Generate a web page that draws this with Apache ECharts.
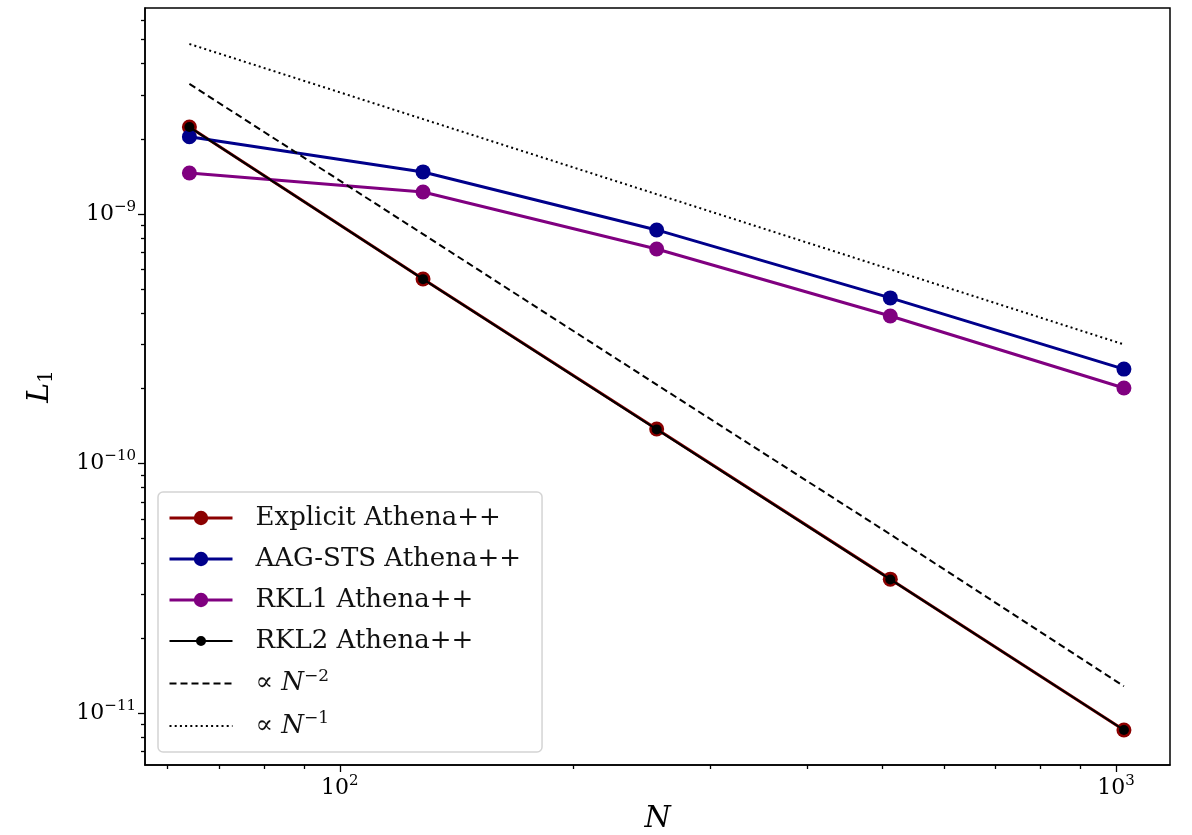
<!DOCTYPE html>
<html>
<head>
<meta charset="utf-8">
<style>
html, body { margin: 0; padding: 0; background: #fff; }
#chart { width: 1192px; height: 835px; }
</style>
<script src="https://cdn.jsdelivr.net/npm/echarts@6/dist/echarts.min.js"></script>
</head>
<body>
<div id="chart"></div>
<script>
// resolution N
const sizes = [64, 128, 256, 512, 1024];
// L1 error per integrator
const explicitErr = [2.23e-9, 5.49e-10, 1.375e-10, 3.44e-11, 8.55e-12];
const aagstsErr = [2.04e-9, 1.474e-9, 8.63e-10, 4.61e-10, 2.39e-10];
const rkl1Err = [1.46e-9, 1.225e-9, 7.24e-10, 3.90e-10, 2.007e-10];
const rkl2Err = [2.23e-9, 5.48e-10, 1.37e-10, 3.43e-11, 8.55e-12];
// reference slopes
const refN2 = [3.32e-9, 8.3e-10, 2.07e-10, 5.2e-11, 1.28e-11];
const refN1 = [4.80e-9, 2.40e-9, 1.20e-9, 6.0e-10, 3.0e-10];
// ticks
const xMajorTicks = [100, 1000];
const yMajorTicks = [1e-11, 1e-10, 1e-9];
const xRange = [56.1, 1174];
const yRange = [6.19e-12, 6.69e-9];

const FONT = 'DejaVu Serif';
const lg = Math.log10;

// minor ticks (2..9 x 10^k) inside range
function minorTicks(range) {
    let out = [];
    for (let e = Math.floor(lg(range[0])); e <= Math.ceil(lg(range[1])); e++) {
        for (let k = 2; k <= 9; k++) {
            let v = k * Math.pow(10, e);
            if (v >= range[0] && v <= range[1]) out.push(lg(v));
        }
    }
    return out;
}

function pairs(ys) {
    return sizes.map((n, i) => [lg(n), lg(ys[i])]);
}

const powRich = {
    b: { fontFamily: FONT, fontSize: 22, color: '#000' },
    s: { fontFamily: FONT, fontSize: 15, color: '#000', padding: [0, 0, 14, 0] }
};
function powLabel(v) {
    let e = Math.round(v);
    return '{b|10}{s|' + String(e).replace('-', '\u2212') + '}';
}

let chart = echarts.init(document.getElementById('chart'));

const baseAxis = {
    type: 'value',
    axisLine: { show: true, lineStyle: { color: '#000', width: 1.5 } },
    splitLine: { show: false },
    axisTick: { show: true, inside: false, length: 7, lineStyle: { color: '#000', width: 1.3 } }
};

const lineSeries = (name, ys, color, symSize, lw, z) => ({
    name: name,
    type: 'line',
    data: pairs(ys),
    symbol: 'circle',
    symbolSize: symSize,
    showAllSymbol: true,
    itemStyle: { color: color, borderColor: color, borderWidth: 0 },
    lineStyle: { color: color, width: lw },
    z: z,
    animation: false
});

const legendText = {
    'prop2': '{t|\u221d }{i|N}{s|\u22122}',
    'prop1': '{t|\u221d }{i|N}{s|\u22121}'
};
// thin line with small dot, for the RKL2 legend entry
const smallDotIcon = 'path://M0,8H63V10H0Z M26.5,9A5,5 0 1,1 36.5,9A5,5 0 1,1 26.5,9Z';

let option = {
    animation: false,
    grid: {
        left: 145, right: 22, top: 8, bottom: 70,
        outerBoundsMode: 'none', containLabel: false,
        show: true, borderColor: '#000', borderWidth: 1.5, backgroundColor: '#fff'
    },
    xAxis: [
        Object.assign({}, baseAxis, {
            position: 'bottom',
            min: lg(xRange[0]), max: lg(xRange[1]),
            name: 'N', nameLocation: 'middle', nameGap: 34,
            nameTextStyle: { fontFamily: FONT, fontStyle: 'italic', fontSize: 30, color: '#000' },
            axisTick: Object.assign({}, baseAxis.axisTick, { customValues: xMajorTicks.map(lg) }),
            axisLabel: { customValues: xMajorTicks.map(lg), margin: 9, formatter: powLabel, rich: powRich }
        }),
        Object.assign({}, baseAxis, {
            position: 'bottom',
            min: lg(xRange[0]), max: lg(xRange[1]),
            axisLine: { show: false },
            axisTick: Object.assign({}, baseAxis.axisTick, { length: 4, customValues: minorTicks(xRange) }),
            axisLabel: { show: false }
        })
    ],
    yAxis: [
        Object.assign({}, baseAxis, {
            position: 'left',
            min: lg(yRange[0]), max: lg(yRange[1]),
            name: '{i|L}{s|1}', nameLocation: 'middle', nameGap: 88,
            nameTextStyle: {
                rich: {
                    i: { fontFamily: FONT, fontStyle: 'italic', fontSize: 30, color: '#000' },
                    s: { fontFamily: FONT, fontSize: 20, color: '#000', padding: [14, 0, 0, 0] }
                }
            },
            axisTick: Object.assign({}, baseAxis.axisTick, { customValues: yMajorTicks.map(lg) }),
            axisLabel: { customValues: yMajorTicks.map(lg), margin: 9, formatter: powLabel, rich: powRich }
        }),
        Object.assign({}, baseAxis, {
            position: 'left',
            min: lg(yRange[0]), max: lg(yRange[1]),
            axisLine: { show: false },
            axisTick: Object.assign({}, baseAxis.axisTick, { length: 4, customValues: minorTicks(yRange) }),
            axisLabel: { show: false }
        })
    ],
    legend: {
        orient: 'vertical',
        left: 158, top: 492,
        itemWidth: 63, itemHeight: 18, itemGap: 13,
        padding: [12, 21, 12, 10],
        backgroundColor: 'rgba(255,255,255,0.8)',
        borderColor: '#d4d4d4', borderWidth: 1.5, borderRadius: 5,
        textStyle: {
            fontFamily: FONT, fontSize: 26, lineHeight: 28, color: '#111', padding: [0, 0, 0, 18],
            rich: {
                t: { fontFamily: FONT, fontSize: 26, color: '#111' },
                i: { fontFamily: FONT, fontStyle: 'italic', fontSize: 26, color: '#111' },
                s: { fontFamily: FONT, fontSize: 17, color: '#111', padding: [0, 0, 14, 0] }
            }
        },
        formatter: name => legendText[name] || name,
        data: [
            { name: 'Explicit Athena++', lineStyle: { width: 3 } },
            { name: 'AAG-STS Athena++', lineStyle: { width: 3 } },
            { name: 'RKL1 Athena++', lineStyle: { width: 3 } },
            { name: 'RKL2 Athena++', icon: smallDotIcon },
            { name: 'prop2', itemStyle: { opacity: 0 }, lineStyle: { width: 2 } },
            { name: 'prop1', itemStyle: { opacity: 0 }, lineStyle: { width: 2 } }
        ]
    },
    series: [
        lineSeries('Explicit Athena++', explicitErr, '#8b0000', 15, 3, 2),
        lineSeries('AAG-STS Athena++', aagstsErr, '#00008b', 15, 3, 3),
        lineSeries('RKL1 Athena++', rkl1Err, '#800080', 15, 3, 4),
        lineSeries('RKL2 Athena++', rkl2Err, '#000000', 10, 2, 5),
        {
            name: 'prop2', type: 'line', data: pairs(refN2), symbol: 'none', z: 6,
            itemStyle: { color: '#000' },
            lineStyle: { color: '#000', width: 2, type: [7, 4] }
        },
        {
            name: 'prop1', type: 'line', data: pairs(refN1), symbol: 'none', z: 6,
            itemStyle: { color: '#000' },
            lineStyle: { color: '#000', width: 2, type: [2, 3.2] }
        }
    ]
};
chart.setOption(option);
</script>
</body>
</html>
